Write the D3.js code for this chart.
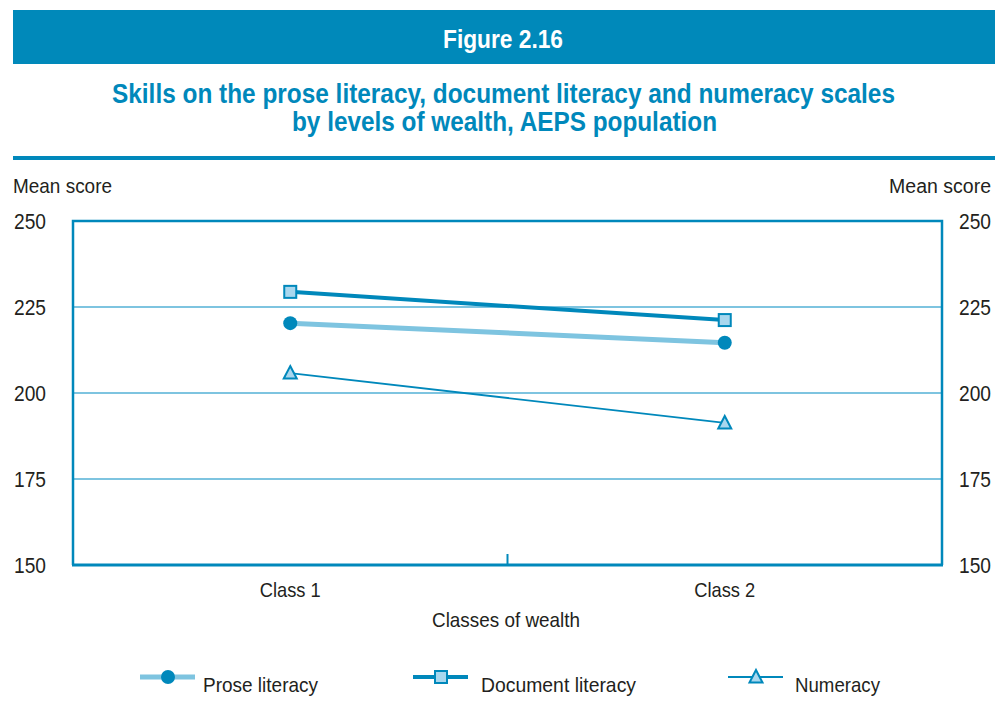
<!DOCTYPE html>
<html><head><meta charset="utf-8">
<script src="https://cdn.jsdelivr.net/npm/d3@7"></script>
<style>
body{margin:0;background:#fff;}
text{font-family:"Liberation Sans Narrow","Arial Narrow","Liberation Sans",sans-serif;}
</style></head><body>
<svg id="c" width="995" height="719"></svg>
<script>
const categories = ["Class 1", "Class 2"];
const seriesNames = ["Prose literacy", "Document literacy", "Numeracy"];
const proseValues = [220.3, 214.6];
const documentValues = [229.4, 221.2];
const numeracyValues = [205.8, 191.3];
const yTicks = [150, 175, 200, 225, 250];

const dark = "#0088bb", light = "#7ec4e0", fillLight = "#a9d7ee";
const svg = d3.select("#c");
const L = 73, R = 942, T = 221, B = 565;
const fit = (sel, w) => sel.attr("textLength", w).attr("lengthAdjust", "spacingAndGlyphs");

// header
svg.append("rect").attr("x",13).attr("y",10).attr("width",982).attr("height",54).attr("fill","#0089ba");
fit(svg.append("text").attr("x",503).attr("y",48).attr("text-anchor","middle").attr("fill","#fff")
  .attr("font-size",25).attr("font-weight","bold").text("Figure 2.16"), 120);
fit(svg.append("text").attr("x",503.5).attr("y",103).attr("text-anchor","middle").attr("fill",dark)
  .attr("font-size",27).attr("font-weight","bold").text("Skills on the prose literacy, document literacy and numeracy scales"), 783);
fit(svg.append("text").attr("x",504.5).attr("y",131).attr("text-anchor","middle").attr("fill",dark)
  .attr("font-size",27).attr("font-weight","bold").text("by levels of wealth, AEPS population"), 425);
svg.append("rect").attr("x",13).attr("y",156).attr("width",982).attr("height",4).attr("fill",dark);

fit(svg.append("text").attr("x",13).attr("y",193).attr("font-size",21).attr("fill","#231f20").text("Mean score"), 99);
svg.append("text").attr("x",991).attr("y",193).attr("text-anchor","end").attr("font-size",19.5).attr("fill","#231f20").text("Mean score");

const y = d3.scaleLinear().domain([150,250]).range([B,T]);
const x = d3.scaleBand().domain(categories).range([L,R]);
const cx = d => x(d) + x.bandwidth()/2;

// gridlines
svg.append("g").selectAll("line").data(yTicks.filter(t=>t>150 && t<250)).join("line")
  .attr("x1",L).attr("x2",R).attr("y1",d=>y(d)).attr("y2",d=>y(d))
  .attr("stroke",light).attr("stroke-width",2);

// axes labels via d3 axes
const yl = svg.append("g").attr("transform",`translate(${L-27},0)`)
  .call(d3.axisLeft(y).tickValues(yTicks).tickSize(0).tickPadding(0));
const yr = svg.append("g").attr("transform",`translate(${R+17},0)`)
  .call(d3.axisRight(y).tickValues(yTicks).tickSize(0).tickPadding(0));
[yl,yr].forEach(g=>{g.select(".domain").remove();
  g.selectAll("text").attr("font-size",22).attr("fill","#231f20").attr("font-family","Liberation Sans Narrow, Arial Narrow, sans-serif")
   .attr("textLength",32).attr("lengthAdjust","spacingAndGlyphs");});

const xa = svg.append("g").attr("transform",`translate(0,${B+17})`)
  .call(d3.axisBottom(x).tickSize(0).tickPadding(0));
xa.select(".domain").remove();
xa.selectAll("text").attr("font-size",21).attr("fill","#231f20").attr("dy","0.71em").attr("font-family","Liberation Sans Narrow, Arial Narrow, sans-serif")
  .attr("textLength",61).attr("lengthAdjust","spacingAndGlyphs");

fit(svg.append("text").attr("x",506).attr("y",627).attr("text-anchor","middle").attr("font-size",21).attr("fill","#231f20").text("Classes of wealth"), 148);

// frame
svg.append("path").attr("d",`M${L},${B}V${T}H${R}V${B}`).attr("fill","none").attr("stroke",dark).attr("stroke-width",2.5);
svg.append("line").attr("x1",L-1).attr("x2",R+1).attr("y1",B).attr("y2",B).attr("stroke",dark).attr("stroke-width",3);
svg.append("line").attr("x1",(L+R)/2).attr("x2",(L+R)/2).attr("y1",B).attr("y2",B-11).attr("stroke",dark).attr("stroke-width",2);

const series = [
  {name:seriesNames[0], values:proseValues, color:light, width:5, marker:"circle"},
  {name:seriesNames[1], values:documentValues, color:dark, width:4, marker:"square"},
  {name:seriesNames[2], values:numeracyValues, color:dark, width:1.8, marker:"triangle"}
];
const line = d3.line().x((v,i)=>cx(categories[i])).y(v=>y(v));

function marker(g, type, px, py){
  if(type==="circle") g.append("circle").attr("cx",px).attr("cy",py).attr("r",7).attr("fill",dark);
  else if(type==="square") g.append("rect").attr("x",px-6).attr("y",py-6).attr("width",12).attr("height",12)
     .attr("fill",fillLight).attr("stroke",dark).attr("stroke-width",2);
  else g.append("path").attr("d",`M${px},${py-7}L${px+6.5},${py+5.5}L${px-6.5},${py+5.5}Z`)
     .attr("fill",fillLight).attr("stroke",dark).attr("stroke-width",2).attr("stroke-linejoin","miter");
}

series.forEach(s=>{
  svg.append("path").datum(s.values).attr("d",line).attr("fill","none").attr("stroke",s.color).attr("stroke-width",s.width);
  const g = svg.append("g");
  s.values.forEach((v,i)=>marker(g, s.marker, cx(categories[i]), y(v)));
});

// legend
const legX = [140, 413, 728];
const legTextX = [203, 481, 795];
const legTextW = [115, 155, 85];
series.forEach((s,i)=>{
  const g = svg.append("g");
  g.append("line").attr("x1",legX[i]).attr("x2",legX[i]+55).attr("y1",677).attr("y2",677)
    .attr("stroke",s.color).attr("stroke-width",s.width);
  marker(g, s.marker, legX[i]+28, 677);
  fit(g.append("text").attr("x",legTextX[i]).attr("y",692).attr("font-size",21).attr("fill","#231f20").text(s.name), legTextW[i]);
});
</script>
</body></html>
